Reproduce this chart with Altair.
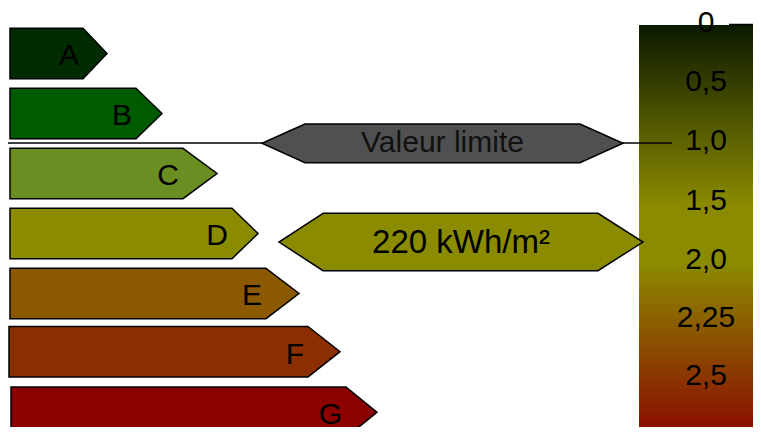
import altair as alt
import pandas as pd

# ---- energy classes (arrow bars) ----
classes = ["A", "B", "C", "D", "E", "F", "G"]
class_colors = ["#002b00", "#005a00", "#6b8e23", "#8b8b00", "#8b5a00", "#8b2e00", "#8b0000"]
class_row = [0, 1, 2, 3, 4, 4.97, 5.98]
class_start = [10, 10, 10, 10, 10, 9, 11]
class_body_end = [83, 136, 183, 232, 266, 308, 346]
class_tip = [107, 162, 217, 258, 299, 340, 377]
bar_half = 0.42

# ---- markers (hexagon labels) ----
marker_text = ["Valeur limite", "220 kWh/m²"]
marker_colors = ["#505050", "#8b8b00"]
marker_row = [1.497, 3.142]
marker_half = [0.3225, 0.478]
marker_tip_left = [262, 279]
marker_shoulder_left = [305, 323]
marker_shoulder_right = [580, 598]
marker_tip_right = [623, 643]

# ---- limit line ----
limit_row = 1.492
limit_x = [8, 672]

# ---- gradient scale on the right ----
scale_labels = ["0", "0,5", "1,0", "1,5", "2,0", "2,25", "2,5"]
scale_label_row = [-0.505, 0.483, 1.458, 2.458, 3.442, 4.408, 5.375]
scale_label_x = 706
grad_x = [639, 761]
grad_row = [-0.475, 6.36]
top_tick_x = [729, 761]
top_tick_row = -0.483

FONT = "Liberation Sans"

xs = alt.Scale(domain=[8, 753], nice=False, zero=False)
ys = alt.Scale(domain=[-0.758, 6.225], nice=False, zero=False, reverse=True)

# polygons built from the arrays
poly = []
for i, c in enumerate(classes):
    r = class_row[i]
    for rr, xv in [(r - bar_half, class_body_end[i]), (r, class_tip[i]), (r + bar_half, class_body_end[i])]:
        poly.append({"shape": c, "row": rr, "x": xv, "x2": class_start[i], "fill": class_colors[i]})
for i, t in enumerate(marker_text):
    r = marker_row[i]
    h = marker_half[i]
    for rr, a, b in [(r - h, marker_shoulder_left[i], marker_shoulder_right[i]),
                     (r, marker_tip_left[i], marker_tip_right[i]),
                     (r + h, marker_shoulder_left[i], marker_shoulder_right[i])]:
        poly.append({"shape": "m" + str(i), "row": rr, "x": a, "x2": b, "fill": marker_colors[i]})
poly_df = pd.DataFrame(poly)
bars_df = poly_df[poly_df["shape"].isin(classes)]
marks_df = poly_df[~poly_df["shape"].isin(classes)]

letters_df = pd.DataFrame({"cls": classes, "row": class_row, "x": class_body_end})
mtext_df = pd.DataFrame({
    "text": marker_text,
    "row": marker_row,
    "x": [(a + b) / 2 for a, b in zip(marker_tip_left, marker_tip_right)],
})
scale_df = pd.DataFrame({"lab": scale_labels, "row": scale_label_row, "x": [scale_label_x] * len(scale_labels)})
grad_df = pd.DataFrame({"x": [grad_x[0]], "x2": [grad_x[1]], "row": [grad_row[0]], "row2": [grad_row[1]]})
limit_df = pd.DataFrame({"x": [limit_x[0]], "x2": [limit_x[1]], "row": [limit_row]})
tick_df = pd.DataFrame({"x": [top_tick_x[0]], "x2": [top_tick_x[1]], "row": [top_tick_row]})

gradient = alt.LinearGradient(
    gradient="linear",
    stops=[
        alt.GradientStop(color="#0b1900", offset=0),
        alt.GradientStop(color="#8b8b00", offset=0.44),
        alt.GradientStop(color="#8b8b00", offset=0.58),
        alt.GradientStop(color="#8b0a00", offset=1),
    ],
    x1=0, x2=0, y1=0, y2=1,
)

grad_layer = alt.Chart(grad_df).mark_rect(fill=gradient, clip=True).encode(
    x=alt.X("x:Q", scale=xs, axis=None),
    x2="x2:Q",
    y=alt.Y("row:Q", scale=ys, axis=None),
    y2="row2:Q",
)

tick_layer = alt.Chart(tick_df).mark_rule(color="black", strokeWidth=1.5, clip=True).encode(
    x=alt.X("x:Q", scale=xs, axis=None),
    x2="x2:Q",
    y=alt.Y("row:Q", scale=ys, axis=None),
)

limit_layer = alt.Chart(limit_df).mark_rule(color="black", strokeWidth=1.5).encode(
    x=alt.X("x:Q", scale=xs, axis=None),
    x2="x2:Q",
    y=alt.Y("row:Q", scale=ys, axis=None),
)

def poly_layer(df):
    return alt.Chart(df).mark_area(
        orient="horizontal", stroke="black", strokeWidth=1.5, opacity=1, clip=True,
        interpolate="linear", strokeJoin="miter",
    ).encode(
        y=alt.Y("row:Q", scale=ys, axis=None),
        x=alt.X("x:Q", scale=xs, axis=None, stack=None),
        x2="x2:Q",
        detail="shape:N",
        fill=alt.Fill("fill:N", scale=None),
    )

bars_layer = poly_layer(bars_df)
marks_layer = poly_layer(marks_df)

letters_layer = alt.Chart(letters_df).mark_text(
    align="right", baseline="middle", dx=-4, dy=3, fontSize=30, font=FONT, color="black",
).encode(
    x=alt.X("x:Q", scale=xs, axis=None),
    y=alt.Y("row:Q", scale=ys, axis=None),
    text="cls:N",
)

mtext1 = alt.Chart(mtext_df.iloc[[0]]).mark_text(
    align="center", baseline="middle", dy=0, fontSize=30, font=FONT, color="#111111",
).encode(
    x=alt.X("x:Q", scale=xs, axis=None),
    y=alt.Y("row:Q", scale=ys, axis=None),
    text="text:N",
)
mtext2 = alt.Chart(mtext_df.iloc[[1]]).mark_text(
    align="center", baseline="middle", dy=1, fontSize=33, font=FONT, color="black",
).encode(
    x=alt.X("x:Q", scale=xs, axis=None),
    y=alt.Y("row:Q", scale=ys, axis=None),
    text="text:N",
)

scale_layer = alt.Chart(scale_df).mark_text(
    align="center", baseline="middle", fontSize=30, font=FONT, color="black",
).encode(
    x=alt.X("x:Q", scale=xs, axis=None),
    y=alt.Y("row:Q", scale=ys, axis=None),
    text="lab:N",
)

chart = alt.layer(
    grad_layer, tick_layer, limit_layer, bars_layer, marks_layer,
    letters_layer, mtext1, mtext2, scale_layer,
).properties(
    width=745, height=419, padding=0,
    autosize=alt.AutoSizeParams(type="none"),
).configure_view(stroke=None)

chart.save("out.html", embed_options={"renderer": "svg", "actions": False})
